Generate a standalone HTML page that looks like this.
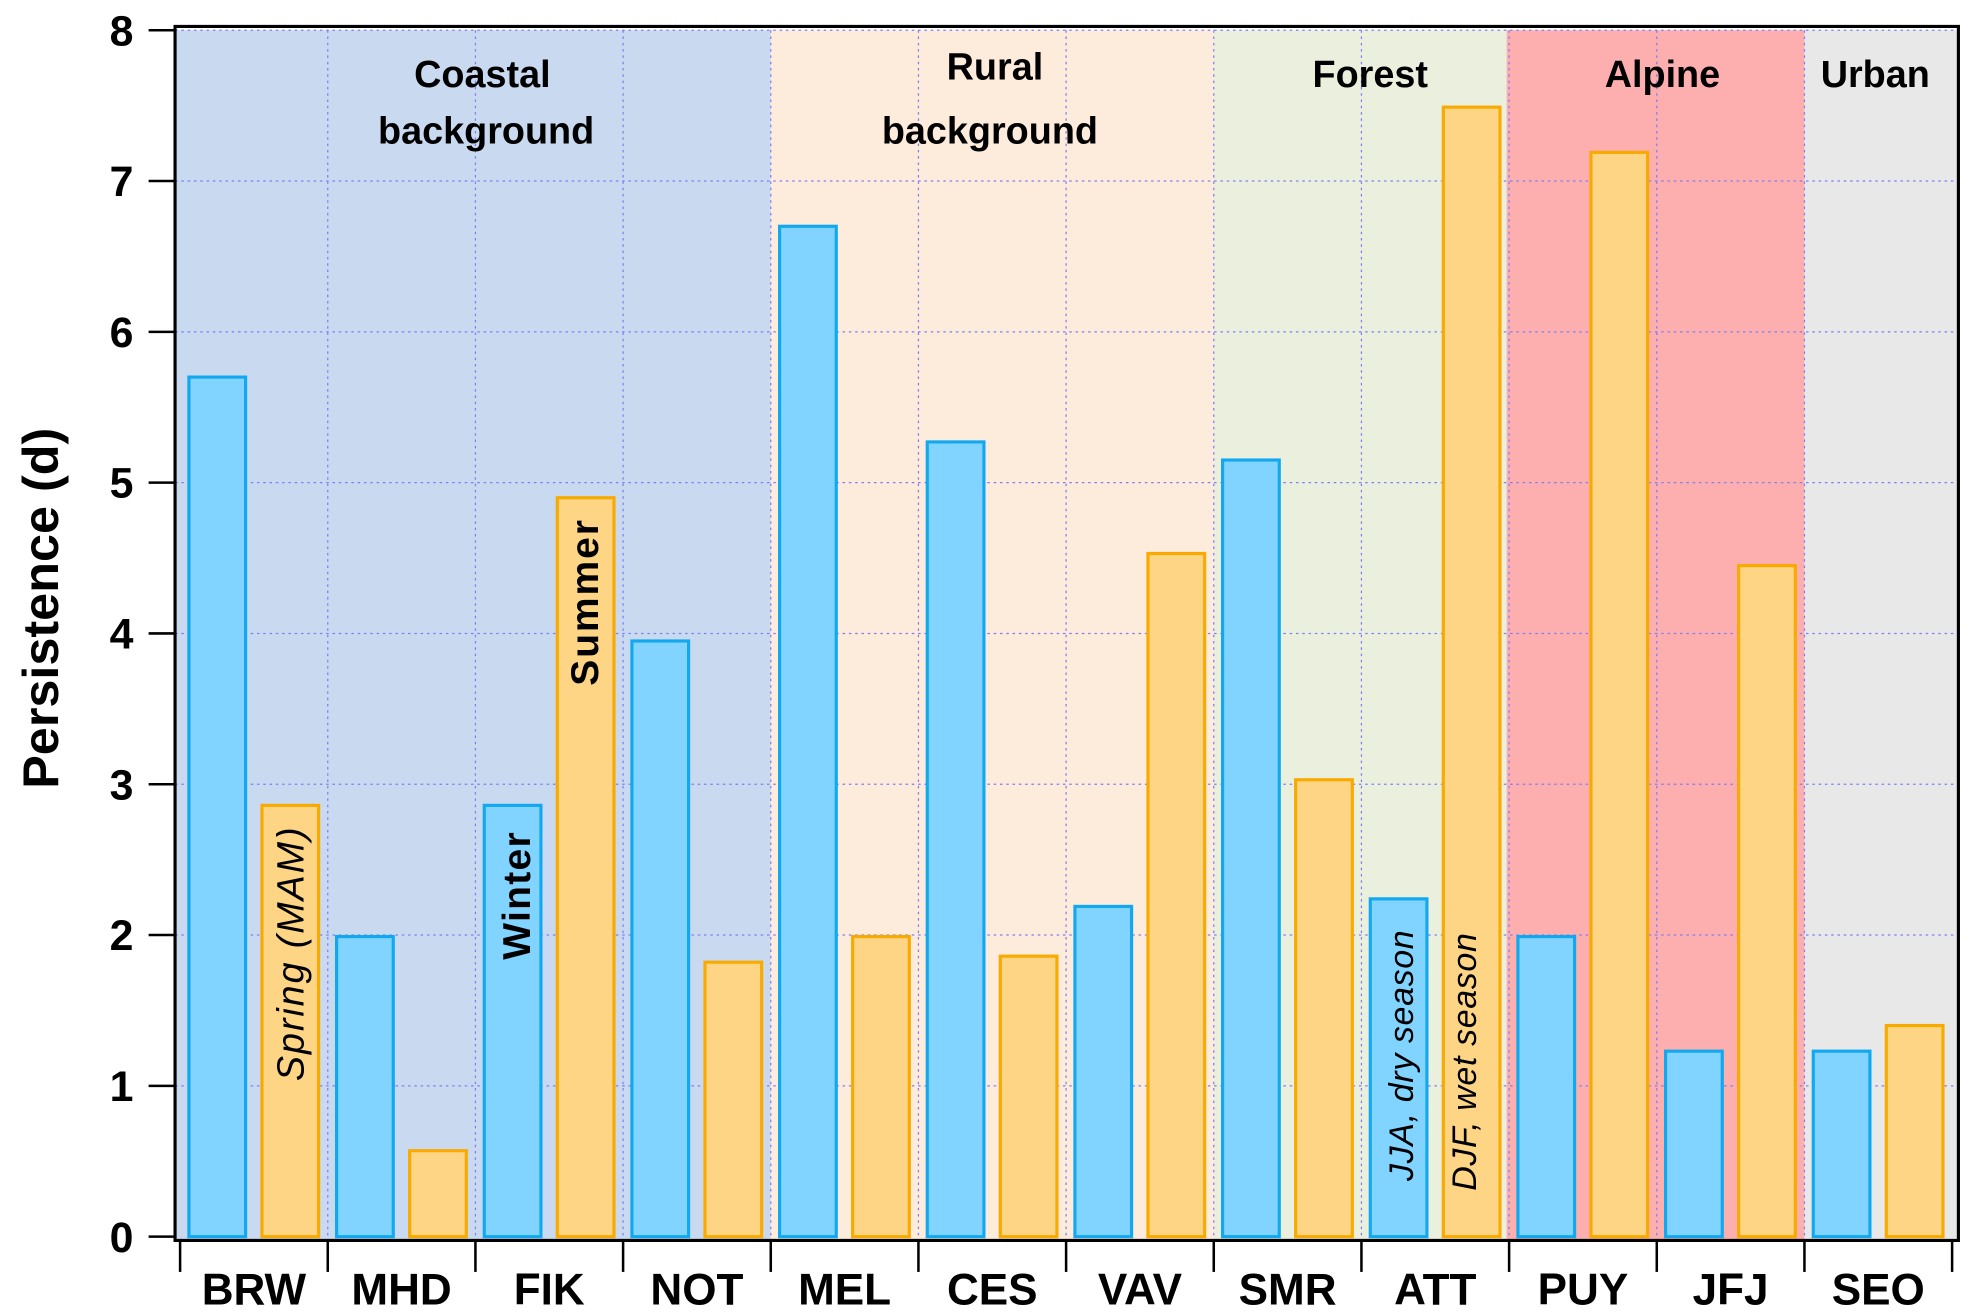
<!DOCTYPE html>
<html><head><meta charset="utf-8"><style>
html,body{margin:0;padding:0;background:#fff;}
svg{display:block;}
</style></head><body>
<svg id="chart" width="1971" height="1316" viewBox="0 0 1565 1045" preserveAspectRatio="none" xmlns="http://www.w3.org/2000/svg" font-family="Liberation Sans, sans-serif">
<g id="bg"></g><g id="grid"></g><g id="bars"></g><g id="axes"></g><g id="labels"></g>
</svg>
<script>
const categories = ["BRW","MHD","FIK","NOT","MEL","CES","VAV","SMR","ATT","PUY","JFJ","SEO"];
const season1 = [5.7,1.99,2.86,3.95,6.7,5.27,2.19,5.15,2.24,1.99,1.23,1.23];
const season2 = [2.86,0.57,4.9,1.82,1.99,1.86,4.53,3.03,7.49,7.19,4.45,1.40];
const yTicks = [0,1,2,3,4,5,6,7,8];
const groups = ["Coastal background","Rural background","Forest","Alpine","Urban"];
const groupStart = [0,4,7,9,11];
const groupEnd = [4,7,9,11,12];

const NS="http://www.w3.org/2000/svg";
const X0=143, CW=117.25, Y0=982, YU=119.75, PL=139, PR=1555, PT=24;
const y = v => Y0 - v*YU;
const x = i => X0 + i*CW;
function mk(parent,tag,attrs){const e=document.createElementNS(NS,tag);for(const k in attrs)e.setAttribute(k,attrs[k]);document.getElementById(parent).appendChild(e);return e;}

const bgColors=["#c9daf0","#fdebdb","#ebf0de","#fdaeae","#e8e8e8"];
groups.forEach((g,i)=>{
  const x1 = i===0?PL:x(groupStart[i]) + (i===3?-2:0);
  const x2 = i===groups.length-1?PR:x(groupEnd[i]) + (i===2?-2:0);
  const r=mk("bg","rect",{x:x1,y:PT,width:x2-x1,height:Y0+3-PT,fill:bgColors[i]});
  
  
});
yTicks.forEach(t=>{ if(t>0){const l=mk("grid","line",{x1:PL,x2:PR,y1:y(t),y2:y(t),stroke:"#7f7ff5","stroke-width":1,"stroke-dasharray":"2,3"});
  
  }});
for(let i=1;i<categories.length;i++){const l=mk("grid","line",{x1:x(i),x2:x(i),y1:PT,y2:Y0,stroke:"#7f7ff5","stroke-width":1,"stroke-dasharray":"2,3"});
  
  }

categories.forEach((c,i)=>{
  const b1=mk("bars","rect",{x:x(i)+7,y:y(season1[i]),width:45,height:season1[i]*YU,fill:"#80d4ff",stroke:"#12a8f0","stroke-width":2.5});
  
  
  const b2=mk("bars","rect",{x:x(i)+65,y:y(season2[i]),width:45,height:season2[i]*YU,fill:"#fdd584",stroke:"#f8aa00","stroke-width":2.5});
  
  
  const t=mk("axes","text",{x:x(i)+CW/2,y:1036,"text-anchor":"middle","font-size":35,"font-weight":"bold"});
  t.textContent=c;
  
  
});
for(let i=0;i<=categories.length;i++){const l=mk("axes","line",{x1:x(i),x2:x(i),y1:985,y2:1010,stroke:"#000","stroke-width":2});
  
  }
yTicks.forEach(t=>{
  const l=mk("axes","line",{x1:118,x2:PL,y1:y(t),y2:y(t),stroke:"#000","stroke-width":2});
  
  
  const tx=mk("axes","text",{x:106,y:y(t)+12,"text-anchor":"end","font-size":34,"font-weight":"bold"});
  tx.textContent=t;
  
  
});
const frame=mk("axes","path",{d:`M${PL},${PT-3} V985 H${PR} V${PT-3} Z`,fill:"none",stroke:"#000","stroke-width":2.5});


const yt=mk("axes","text",{x:0,y:0,transform:"translate(46,483) rotate(-90)","text-anchor":"middle","font-size":40,"font-weight":"bold"});
yt.textContent="Persistence (d)";



function lab(txt,xx,yy,opts,name){const t=mk("labels","text",Object.assign({x:xx,y:yy,"text-anchor":"middle","font-size":30,"font-weight":"bold"},opts));t.textContent=txt;
  
  return t;}
lab("Coastal",383,69,{},"group-label-coastal");
lab("background",386,114,{},"group-label-coastal");
lab("Rural",790,63,{},"group-label-rural");
lab("background",786,114,{},"group-label-rural");
lab("Forest",1088,69,{},"group-label-forest");
lab("Alpine",1320,69,{},"group-label-alpine");
lab("Urban",1489,69,{},"group-label-urban");
function vlab(txt,cx,cy,opts,name){const t=mk("labels","text",Object.assign({x:0,y:0,transform:`translate(${cx},${cy}) rotate(-90)`,"text-anchor":"middle","font-size":27},opts));t.textContent=txt;
  
  }
vlab("Spring (MAM)",241,757,{"font-style":"italic","font-size":30,"letter-spacing":"1.5"},"annotation-spring");
vlab("Winter",421,711,{"font-weight":"bold","font-size":31,"letter-spacing":"1"},"annotation-winter");
vlab("Summer",475,478,{"font-weight":"bold","font-size":31,"letter-spacing":"1.5"},"annotation-summer");
vlab("JJA, dry season",1122,838,{"font-style":"italic","letter-spacing":"0.5"},"annotation-jja");
vlab("DJF, wet season",1172,843,{"font-style":"italic","letter-spacing":"0.5"},"annotation-djf");
</script>
</body></html>
